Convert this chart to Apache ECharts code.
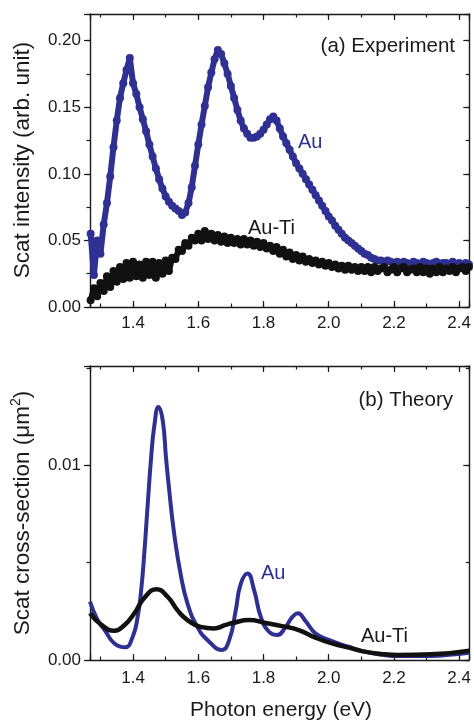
<!DOCTYPE html>
<html><head><meta charset="utf-8">
<script src="https://cdn.jsdelivr.net/npm/echarts@6/dist/echarts.min.js"></script>
<style>html,body{margin:0;padding:0;background:#fff}#c{width:474px;height:724px}</style>
</head><body><div id="c"></div>
<script>
// ---------- data ----------
const expEnergy = [1.27,1.28,1.29,1.30,1.31,1.32,1.33,1.34,1.35,1.36,1.37,1.38,1.39,1.40,1.41,1.42,1.43,1.44,1.45,1.46,1.47,1.48,1.49,1.50,1.51,1.52,1.53,1.54,1.55,1.56,1.57,1.58,1.59,1.60,1.61,1.62,1.63,1.64,1.65,1.66,1.67,1.68,1.69,1.70,1.71,1.72,1.73,1.74,1.75,1.76,1.77,1.78,1.79,1.80,1.81,1.82,1.83,1.84,1.85,1.86,1.87,1.88,1.89,1.90,1.91,1.92,1.93,1.94,1.95,1.96,1.97,1.98,1.99,2.00,2.01,2.02,2.03,2.04,2.05,2.06,2.07,2.08,2.09,2.10,2.11,2.12,2.13,2.14,2.15,2.16,2.17,2.18,2.19,2.20,2.21,2.22,2.23,2.24,2.25,2.26,2.27,2.28,2.29,2.30,2.31,2.32,2.33,2.34,2.35,2.36,2.37,2.38,2.39,2.40,2.41,2.42,2.43];
const expAu = [
0.055,0.024,0.050,0.040,0.062,0.078,0.098,0.120,0.140,0.157,
0.168,0.178,0.187,0.168,0.160,0.150,0.141,0.132,0.122,0.113,
0.104,0.096,0.089,0.083,0.079,0.076,0.074,0.072,0.069,0.071,
0.078,0.090,0.106,0.122,0.137,0.151,0.165,0.176,0.186,0.193,
0.190,0.183,0.175,0.166,0.157,0.148,0.140,0.134,0.130,0.127,
0.127,0.128,0.130,0.133,0.137,0.141,0.143,0.140,0.134,0.128,
0.123,0.118,0.113,0.108,0.104,0.100,0.096,0.092,0.088,0.084,
0.080,0.076,0.072,0.068,0.065,0.061,0.058,0.055,0.052,0.050,
0.048,0.046,0.044,0.042,0.040,0.039,0.037,0.036,0.035,0.035,
0.034,0.035,0.034,0.033,0.034,0.033,0.034,0.033,0.032,0.034,
0.033,0.032,0.034,0.033,0.032,0.033,0.034,0.032,0.033,0.033,
0.032,0.034,0.032,0.033,0.031,0.033,0.032];
const expAuTi = [
0.005,0.014,0.008,0.018,0.012,0.023,0.015,0.027,0.019,0.030,
0.021,0.033,0.022,0.034,0.023,0.032,0.022,0.034,0.024,0.034,
0.022,0.033,0.025,0.035,0.027,0.037,0.036,0.043,0.042,0.048,
0.046,0.052,0.050,0.055,0.050,0.057,0.051,0.055,0.050,0.054,
0.049,0.053,0.048,0.052,0.048,0.051,0.047,0.051,0.047,0.050,
0.046,0.049,0.045,0.048,0.044,0.046,0.042,0.045,0.040,0.043,
0.038,0.041,0.036,0.039,0.035,0.038,0.034,0.036,0.033,0.035,
0.032,0.034,0.031,0.033,0.030,0.032,0.029,0.031,0.028,0.031,
0.028,0.030,0.027,0.030,0.027,0.030,0.026,0.030,0.027,0.029,
0.030,0.026,0.028,0.030,0.026,0.029,0.030,0.026,0.028,0.029,
0.026,0.030,0.026,0.029,0.025,0.029,0.026,0.030,0.026,0.029,
0.027,0.030,0.026,0.029,0.030,0.027,0.030];

const thAuEnergy = [1.268,1.29,1.313,1.343,1.376,1.399,1.414,1.425,1.435,1.445,1.455,1.465,1.478,1.491,1.501,1.511,1.526,1.546,1.567,1.597,1.628,1.672,1.695,1.715,1.73,1.751,1.771,1.792,1.817,1.842,1.868,1.888,1.905,1.929,1.959,2.0,2.061,2.11,2.16,2.213,2.314,2.38,2.431];
const thAu = [0.0030,0.0021,0.00154,0.00085,0.00065,0.0012,0.0022,0.0036,0.0056,0.0080,0.0103,0.0120,0.0130,0.0123,0.0104,0.0087,0.0065,0.0044,0.0029,0.0017,0.00103,0.00052,0.00103,0.00256,0.0039,0.00444,0.0036,0.0022,0.00145,0.00128,0.0017,0.0022,0.0024,0.0020,0.00137,0.00103,0.00068,0.00043,0.00028,0.0002,0.0002,0.00028,0.00037];
const thAuTiEnergy = [1.268,1.303,1.343,1.374,1.404,1.435,1.472,1.506,1.536,1.567,1.607,1.648,1.684,1.705,1.756,1.807,1.857,1.908,1.959,2.01,2.07,2.11,2.162,2.213,2.314,2.431];
const thAuTi = [0.0024,0.0018,0.0015,0.0018,0.0024,0.0032,0.00363,0.00325,0.00256,0.00205,0.0017,0.00162,0.0018,0.0019,0.00205,0.0019,0.00174,0.00154,0.00115,0.00085,0.0006,0.00043,0.00031,0.00026,0.00029,0.00048];

const xTickLabels = ['1.4','1.6','1.8','2.0','2.2','2.4'];
const yTopTickLabels = ['0.00','0.05','0.10','0.15','0.20'];
const yBotTickLabels = ['0.00','0.01'];

// ---------- styling ----------
const FONT = '"Liberation Sans", Arial, sans-serif';
const AX = '#1a1a1a';
const BLUE = '#2E3192';
const XMIN = 1.268, XMAX = 2.431;

function pairs(xs, ys){ return xs.map((x,i)=>[x, ys[i]]); }

function xAxes(grid, labelMargin){
  const base = {type:'value', gridIndex:grid, min:XMIN, max:XMAX, splitLine:{show:false}, axisLine:{show:false, onZero:false}};
  const tickMaj = {show:true, inside:true, length:6, lineStyle:{color:AX, width:1.2}};
  const tickMin = {show:true, inside:true, length:3.5, lineStyle:{color:AX, width:1.2}};
  return [
    Object.assign({}, base, {position:'bottom', splitNumber:5,
      axisLine:{show:true, onZero:false, lineStyle:{color:AX, width:1.4}},
      axisTick:tickMaj,
      axisLabel:{margin:labelMargin, fontSize:17, color:AX, fontFamily:FONT,
        formatter: v => { const s = v.toFixed(1); return (xTickLabels.includes(s) && Math.abs(v - parseFloat(s)) < 1e-6) ? s : ''; }}}),
    Object.assign({}, base, {position:'bottom', splitNumber:12, axisTick:tickMin, axisLabel:{show:false}}),
    Object.assign({}, base, {position:'top', splitNumber:5,
      axisLine:{show:true, onZero:false, lineStyle:{color:AX, width:1.4}},
      axisTick:tickMaj, axisLabel:{show:false}}),
    Object.assign({}, base, {position:'top', splitNumber:12, axisTick:tickMin, axisLabel:{show:false}})
  ];
}
function yAxes(grid, max, majorInt, minorInt, labels, digits){
  const base = {type:'value', gridIndex:grid, min:0, max:max, splitLine:{show:false}, axisLine:{show:false, onZero:false}};
  return [
    Object.assign({}, base, {position:'left', interval:majorInt,
      axisLine:{show:true, onZero:false, lineStyle:{color:AX, width:1.4}},
      axisTick:{show:true, inside:false, length:6, lineStyle:{color:AX, width:1.2}},
      axisLabel:{margin:9, fontSize:17, color:AX, fontFamily:FONT,
        formatter: v => { const s = v.toFixed(digits); return (labels.includes(s) && Math.abs(v - parseFloat(s)) < 1e-9) ? s : ''; }}}),
    Object.assign({}, base, {position:'left', interval:minorInt,
      axisTick:{show:true, inside:false, length:3.5, lineStyle:{color:AX, width:1.2}}, axisLabel:{show:false}}),
    Object.assign({}, base, {position:'right', interval:majorInt,
      axisLine:{show:true, onZero:false, lineStyle:{color:AX, width:1.4}},
      axisTick:{show:true, inside:true, length:6, lineStyle:{color:AX, width:1.2}}, axisLabel:{show:false}}),
    Object.assign({}, base, {position:'right', interval:minorInt,
      axisTick:{show:true, inside:true, length:3.5, lineStyle:{color:AX, width:1.2}}, axisLabel:{show:false}})
  ];
}

function txt(x, y, text, opts){
  return {type:'text', x:x, y:y, rotation:(opts && opts.rot) || 0, z:100,
    style:Object.assign({text:text, fontSize:20, fontFamily:FONT, fill:AX, align:'left', verticalAlign:'middle'}, (opts && opts.style) || {})};
}

const chart = echarts.init(document.getElementById('c'), null, {renderer:'canvas'});
chart.setOption({
  animation:false,
  backgroundColor:'#fff',
  grid:[
    {left:90, right:3, top:14, height:293},
    {left:90, right:3, top:366, height:294}
  ],
  xAxis: xAxes(0, 8).concat(xAxes(1, 10)),
  yAxis: yAxes(0, 0.22, 0.05, 0.025, yTopTickLabels, 2).concat(yAxes(1, 0.0151, 0.01, 0.005, yBotTickLabels, 2)),
  series:[
    {name:'Au exp', type:'line', xAxisIndex:0, yAxisIndex:0, data:pairs(expEnergy, expAu),
      symbol:'circle', symbolSize:8, showSymbol:true, lineStyle:{color:BLUE, width:6}, itemStyle:{color:BLUE}, z:2},
    {name:'Au-Ti exp', type:'line', xAxisIndex:0, yAxisIndex:0, data:pairs(expEnergy, expAuTi),
      symbol:'circle', symbolSize:8, showSymbol:true, lineStyle:{color:'#111', width:6}, itemStyle:{color:'#111'}, z:3},
    {name:'Au th', type:'line', xAxisIndex:4, yAxisIndex:4, data:pairs(thAuEnergy, thAu),
      smooth:0.5, showSymbol:false, lineStyle:{color:BLUE, width:4}, z:2},
    {name:'Au-Ti th', type:'line', xAxisIndex:4, yAxisIndex:4, data:pairs(thAuTiEnergy, thAuTi),
      smooth:0.5, showSymbol:false, lineStyle:{color:'#111', width:4.5}, z:3}
  ],
  graphic:[
    txt(23, 160, 'Scat intensity (arb. unit)', {rot:Math.PI/2, style:{align:'center', fontSize:22.5}}),
    {type:'text', x:23, y:513, rotation:Math.PI/2, z:100,
      style:{text:'Scat cross-section (\u03bcm{sup|2})', fontSize:22.5, fontFamily:FONT, fill:AX, align:'center', verticalAlign:'middle',
        rich:{sup:{fontSize:14, fontFamily:FONT, fill:AX, verticalAlign:'top', lineHeight:28}}}},
    txt(281, 710, 'Photon energy (eV)', {style:{align:'center', fontSize:21}}),
    txt(455, 46, '(a) Experiment', {style:{align:'right', fontSize:20.5}}),
    txt(453, 400, '(b) Theory', {style:{align:'right', fontSize:20.5}}),
    txt(298, 142, 'Au', {style:{fill:BLUE}}),
    txt(248, 228, 'Au-Ti', {}),
    txt(261, 573, 'Au', {style:{fill:BLUE}}),
    txt(361, 636, 'Au-Ti', {})
  ]
});
</script>
</body></html>
